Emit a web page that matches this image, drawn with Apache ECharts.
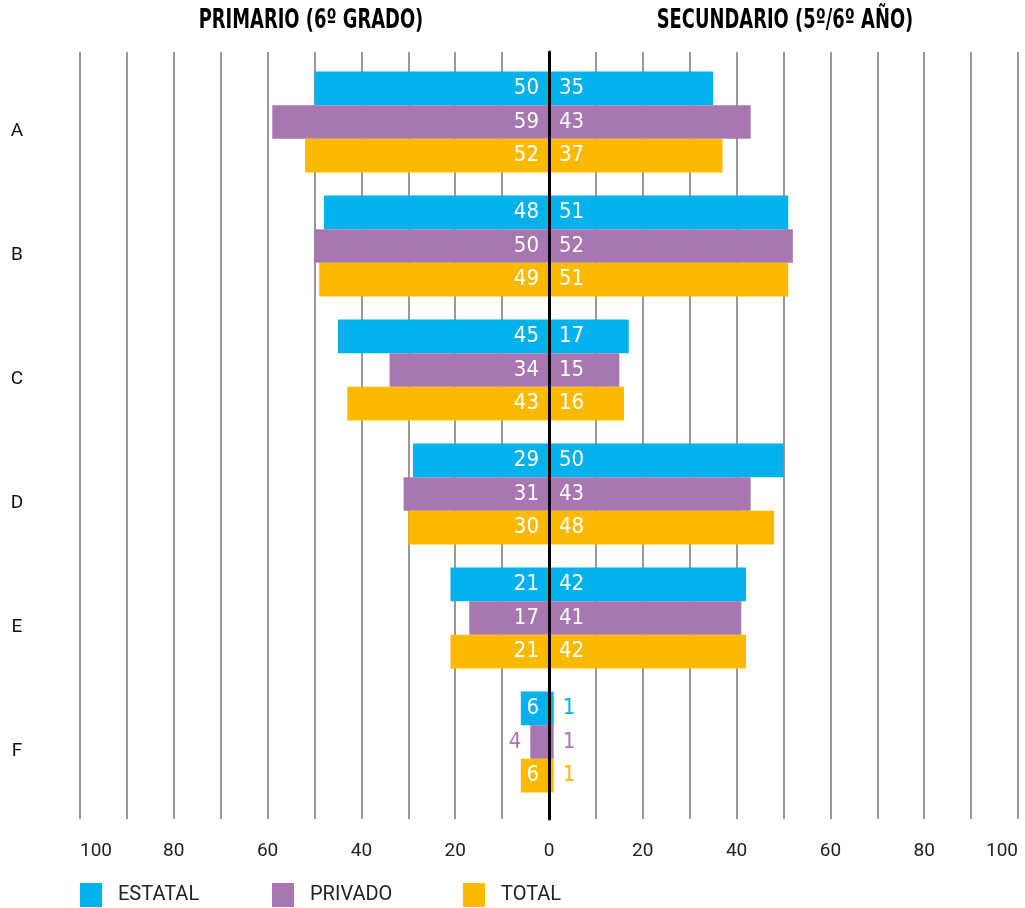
<!DOCTYPE html>
<html>
<head>
<meta charset="utf-8">
<script src="https://cdn.jsdelivr.net/npm/echarts@6/dist/echarts.min.js"></script>
<style>
  html, body { margin: 0; padding: 0; background: #fff; }
  #chart { width: 1025px; height: 908px; }
</style>
</head>
<body>
<div id="chart"></div>
<script>
const categories = ['A', 'B', 'C', 'D', 'E', 'F'];
const seriesNames = ['ESTATAL', 'PRIVADO', 'TOTAL'];
const colors = ['#00B2EB', '#A877B2', '#FBB900'];

// primario (6º grado) - lado izquierdo
const primEstatal = [50, 48, 45, 29, 21, 6];
const primPrivado = [59, 50, 34, 31, 17, 4];
const primTotal = [52, 49, 43, 30, 21, 6];

// secundario (5º/6º año) - lado derecho
const secEstatal = [35, 51, 17, 50, 42, 1];
const secPrivado = [43, 52, 15, 43, 41, 1];
const secTotal = [37, 51, 16, 48, 42, 1];

const tickLabels = [100, 80, 60, 40, 20, 0, 20, 40, 60, 80, 100];

const condensed = '"DejaVu Sans Condensed", "Liberation Sans Narrow", sans-serif';

// valores chicos: etiqueta afuera de la barra, con el color de la serie
function makeData(values, sign, color) {
  return values.map(v => {
    const item = { value: sign * v };
    if (v < 5) {
      item.label = { position: sign < 0 ? 'left' : 'right', color: color, distance: 9 };
    }
    return item;
  });
}

function barSeries(name, values, sign, idx) {
  return {
    name: name,
    type: 'bar',
    stack: 's' + idx,
    xAxisIndex: 0,
    yAxisIndex: 0,
    barWidth: 33.6,
    barGap: '0%',
    itemStyle: { color: colors[idx] },
    label: {
      show: true,
      position: sign < 0 ? 'insideRight' : 'insideLeft',
      distance: 10,
      color: '#fff',
      fontFamily: condensed,
      fontSize: 22,
      formatter: p => Math.abs(p.value)
    },
    data: makeData(values, sign, colors[idx])
  };
}

function header(text, x) {
  return {
    type: 'text',
    x: x, y: 21,
    scaleX: 0.765,
    style: {
      text: text,
      fontFamily: condensed,
      fontSize: 26,
      fontWeight: 'bold',
      fill: '#000',
      align: 'center',
      verticalAlign: 'middle'
    }
  };
}

const chart = echarts.init(document.getElementById('chart'));
chart.setOption({
  animation: false,
  graphic: [
    header('PRIMARIO (6º GRADO)', 311),
    header('SECUNDARIO (5º/6º AÑO)', 785)
  ],
  legend: seriesNames.map((n, i) => ({
    data: [n],
    left: [75, 267, 458][i],
    top: 878,
    itemWidth: 22,
    itemHeight: 24,
    icon: 'rect',
    selectedMode: false,
    textStyle: { fontFamily: 'Roboto', fontSize: 20, color: '#222', padding: [0, 0, 0, 11] }
  })),
  grid: [
    { left: 80, width: 938, top: 60, height: 744 },
    { left: 80, width: 938, top: 52, bottom: 89 }
  ],
  xAxis: [
    { gridIndex: 0, type: 'value', min: -100, max: 100, show: false },
    {
      gridIndex: 1, type: 'value', min: -100, max: 100, interval: 10,
      axisLine: { show: false },
      axisTick: { show: false },
      splitLine: { show: true, lineStyle: { color: '#777', width: 1.5 } },
      axisLabel: {
        margin: 23,
        fontFamily: 'Roboto',
        fontSize: 19,
        color: '#222',
        alignMinLabel: 'left',
        alignMaxLabel: 'right',
        formatter: v => (v % 20 === 0 ? String(tickLabels[(v + 100) / 20]) : '')
      }
    }
  ],
  yAxis: [
    {
      gridIndex: 0, type: 'category', data: categories, inverse: true,
      axisLine: { show: false },
      axisTick: { show: false },
      axisLabel: {
        margin: 63, align: 'center', verticalAlign: 'top',
        fontFamily: 'Roboto', fontSize: 19, color: '#111'
      }
    },
    {
      gridIndex: 1, type: 'value', min: 0, max: 1, z: 5,
      axisLine: { show: true, onZero: true, lineStyle: { color: '#000', width: 3 } },
      axisTick: { show: false },
      axisLabel: { show: false },
      splitLine: { show: false }
    }
  ],
  series: [
    barSeries('ESTATAL', primEstatal, -1, 0),
    barSeries('ESTATAL', secEstatal, 1, 0),
    barSeries('PRIVADO', primPrivado, -1, 1),
    barSeries('PRIVADO', secPrivado, 1, 1),
    barSeries('TOTAL', primTotal, -1, 2),
    barSeries('TOTAL', secTotal, 1, 2)
  ]
});
</script>
</body>
</html>
